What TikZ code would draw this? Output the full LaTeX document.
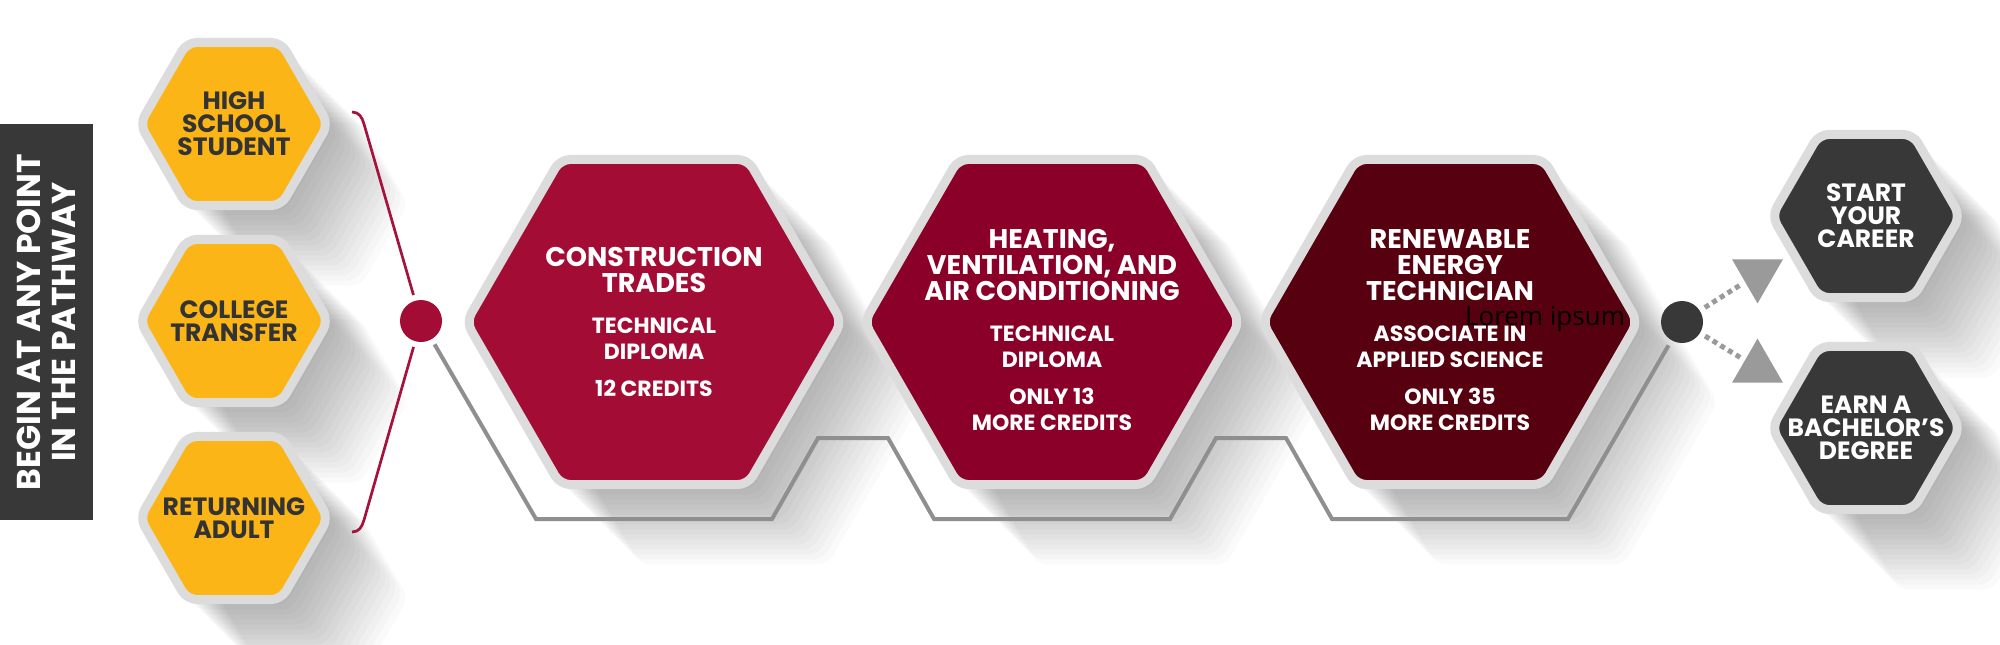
\documentclass[tikz,border=0pt]{standalone}
\usepackage{fontspec}
\newfontfamily\gotfont{Poppins}
\newfontfamily\lorfont{Open Sans}
\usetikzlibrary{shapes.geometric}
\definecolor{goldhex}{HTML}{FBB517}
\definecolor{redA}{HTML}{A30D35}
\definecolor{redB}{HTML}{8A0029}
\definecolor{redC}{HTML}{57000F}
\definecolor{rimgray}{HTML}{DCDCDC}
\definecolor{coal}{HTML}{383838}
\definecolor{inkgray}{HTML}{333333}
\definecolor{pathgray}{HTML}{8F8F8F}
\definecolor{dotgray}{HTML}{9A9A9A}
\definecolor{forkred}{HTML}{A3133B}
\newcommand{\ttl}{\fontsize{13.5}{13}\selectfont}
\newcommand{\sbt}{\fontsize{11}{13}\selectfont}

\begin{document}
\begin{tikzpicture}[x=0.5pt,y=-0.5pt]
    \tikzstyle{hexshadow}=[preaction={fill=black,opacity=.018,transform canvas={shift={(5,5)}}},
      preaction={fill=black,opacity=.018,transform canvas={shift={(10,10)}}},
      preaction={fill=black,opacity=.018,transform canvas={shift={(15,15)}}},
      preaction={fill=black,opacity=.018,transform canvas={shift={(20,20)}}},
      preaction={fill=black,opacity=.018,transform canvas={shift={(25,25)}}},
      preaction={fill=black,opacity=.018,transform canvas={shift={(30,30)}}},
      preaction={fill=black,opacity=.018,transform canvas={shift={(35,35)}}},
      preaction={fill=black,opacity=.018,transform canvas={shift={(40,40)}}},
      preaction={fill=black,opacity=.018,transform canvas={shift={(45,45)}}},
      preaction={fill=black,opacity=.018,transform canvas={shift={(50,50)}}},
      preaction={fill=black,opacity=.018,transform canvas={shift={(55,55)}}},
      preaction={fill=black,opacity=.018,transform canvas={shift={(60,60)}}},
      preaction={fill=black,opacity=.018,transform canvas={shift={(65,65)}}},
      preaction={fill=black,opacity=.018,transform canvas={shift={(70,70)}}},
      preaction={fill=black,opacity=.018,transform canvas={shift={(75,75)}}},
      preaction={fill=black,opacity=.018,transform canvas={shift={(80,80)}}}];
    \tikzstyle{hex}=[regular polygon,regular polygon sides=6,draw=rimgray,
      line width=4.5pt,rounded corners=5pt,align=center,hexshadow];
    \tikzstyle{starthex}=[hex,minimum size=94.2pt,inner sep=-15pt,
      font=\gotfont\bfseries\fontsize{12.5}{11.5}\selectfont];
    \tikzstyle{stephex}=[hex,minimum size=187.7pt,inner sep=-40pt,text=white,
      font=\gotfont\bfseries\fontsize{11}{13}\selectfont];
    \tikzstyle{hub}=[circle,minimum size=21pt,inner sep=0pt,outer sep=3pt];
    \tikzstyle{tri}=[regular polygon,regular polygon sides=3,minimum size=29.4pt,inner sep=0pt,fill=dotgray];
    \tikzstyle{fork}=[draw=forkred,line width=1.35pt];
    \tikzstyle{zig}=[draw=pathgray,line width=2pt];
    \tikzstyle{dotline}=[draw=dotgray,line width=2.5pt,dash pattern=on 2.5pt off 2pt];

    \path[use as bounding box,fill=white] (0,0) rectangle (2000,644);

    \node (begin) [fill=coal,rotate=90,minimum width=198pt,minimum height=46.5pt,inner sep=0pt,
    text=white,align=center,font=\gotfont\bfseries\fontsize{16.5}{17.5}\selectfont]
    at (46.5,322) {BEGIN AT ANY POINT\\IN THE PATHWAY};

    \node (s1) [starthex,fill=goldhex,text=inkgray] at (234,124) {HIGH\\SCHOOL\\STUDENT};
    \node (s2) [starthex,fill=goldhex,text=inkgray] at (234,321) {COLLEGE\\TRANSFER};
    \node (s3) [starthex,fill=goldhex,text=inkgray] at (234,518) {RETURNING\\ADULT};

    \node (p1) [stephex,fill=redA] at (654,322) {\ttl CONSTRUCTION\\\ttl TRADES\\[7.5pt]
    \sbt TECHNICAL\\\sbt DIPLOMA\\[5.5pt]\sbt 12 CREDITS};
    \node (p2) [stephex,fill=redB] at (1052,322) {\ttl\rule{0pt}{18pt}HEATING,\\\ttl VENTILATION, AND\\\ttl AIR
    CONDITIONING\\[7.5pt]\sbt TECHNICAL\\\sbt DIPLOMA\\[5.5pt]\sbt ONLY 13\\\sbt MORE CREDITS};
    \node (p3) [stephex,fill=redC] at (1450,322) {\ttl\rule{0pt}{18pt}RENEWABLE\\\ttl ENERGY\\\ttl TECHNICIAN\\[7.5pt]
    \sbt ASSOCIATE IN\\\sbt APPLIED SCIENCE\\[5.5pt]\sbt ONLY 35\\\sbt MORE CREDITS};

    \node (e1) [starthex,fill=coal,text=white] at (1866,216) {START\\YOUR\\CAREER};
    \node (e2) [starthex,fill=coal,text=white] at (1866,428) {EARN A\\BACHELOR’S\\DEGREE};

    \node (rdot) [hub,fill=redA] at (421,321) {}; \node (ddot) [hub,fill=coal] at (1682,322) {};
    \node (t1) [tri,shape border rotate=180] at (1757.5,274) {}; \node (t2) [tri] at (1757.5,368) {};

    \node (lorem) [anchor=base,inner sep=0pt,font=\lorfont\fontsize{13}{13}\selectfont]
    at (1545,325) {Lorem ipsum};

    \coordinate (b1) at (352,112); \coordinate (b2) at (352,532);
    \draw[fork] (b1) .. controls (359,112) and (362,117) .. (364,124) -- (rdot);
    \draw[fork] (b2) .. controls (359,532) and (362,527) .. (364,520) -- (rdot);

    \draw[zig] (rdot) -- (536,519) -- (772,519) -- (818,438) -- (888,438) -- (934,519)
    -- (1170,519) -- (1216,438) -- (1286,438) -- (1332,519) -- (1568,519) -- (ddot);

    \draw[dotline,shorten >=2pt] (ddot) -- (t1); \draw[dotline,shorten >=2pt] (ddot) -- (t2);
\end{tikzpicture}
\end{document}
